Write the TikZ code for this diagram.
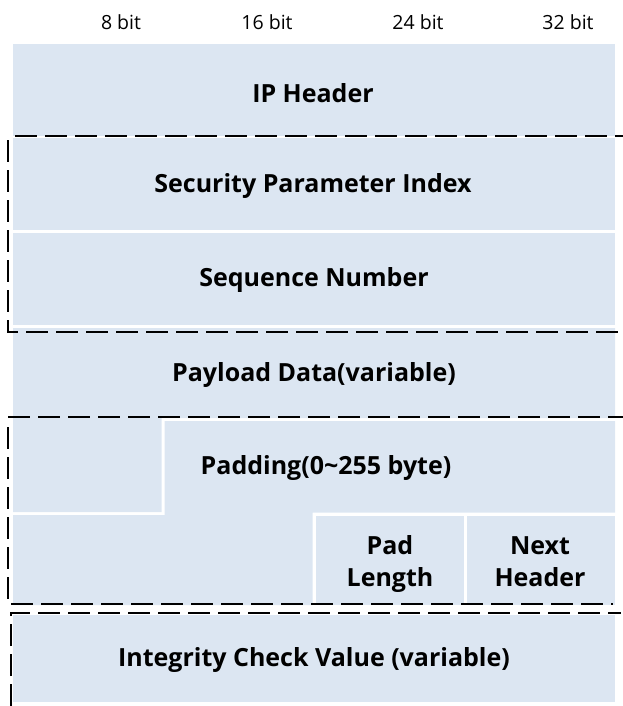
\documentclass[tikz,border=0pt]{standalone}
\usepackage{fontspec}
\setmainfont{Open Sans}
\definecolor{cellblue}{HTML}{DCE6F2}
\begin{document}
\begin{tikzpicture}[x=1pt,y=-1pt,
  cell/.style={fill=cellblue,draw=none},
  lbl/.style={font=\bfseries\fontsize{25}{32}\selectfont,align=center,inner sep=0pt},
  bitlbl/.style={font=\fontsize{19.5}{22}\selectfont,inner sep=0pt},
  frame/.style={draw=black,line width=2.9pt,dash pattern=on 22pt off 8pt}]
\useasboundingbox (0,0) rectangle (623,706);
% cells
\fill[cell] (13,44) rectangle (615,135.5);
\fill[cell] (13,138) rectangle (615,230);
\fill[cell] (13,233) rectangle (615,325);
\fill[cell] (13,328) -- (615,328) -- (615,418) -- (161.5,418) -- (161.5,512) -- (13,512) -- cycle;
\fill[cell] (164.5,421) -- (615,421) -- (615,512.5) -- (312.5,512.5) -- (312.5,605) -- (13,605) -- (13,515) -- (164.5,515) -- cycle;
\fill[cell] (315.5,515.5) rectangle (463.5,605);
\fill[cell] (466.5,515.5) rectangle (615,605);
\fill[cell] (13,615) rectangle (615,702);
% bit labels
\node[bitlbl] (b8) at (121,22) {8 bit};
\node[bitlbl] (b16) at (267,22) {16 bit};
\node[bitlbl] (b24) at (418,22) {24 bit};
\node[bitlbl] (b32) at (568,22) {32 bit};
% field labels
\node[lbl] (ip) at (313,93) {IP Header};
\node[lbl] (spi) at (313,186) {Security Parameter Index};
\node[lbl] (seq) at (314,280) {Sequence Number};
\node[lbl] (pay) at (314,375) {Payload Data(variable)};
\node[lbl] (pad) at (326,468) {Padding(0\textasciitilde 255 byte)};
\node[lbl,anchor=north] (padlen) at (390,535) {Pad\\Length};
\node[lbl,anchor=north] (nh) at (540,536) {Next\\Header};
\node[lbl] (icv) at (314,660) {Integrity Check Value (variable)};
% dashed frames
\draw[frame] (15,136) -- (623,136);
\draw[frame] (8,140) -- (8,332) -- (623,332);
\draw[frame] (8,417) -- (623,417);
\draw[frame] (8,427) -- (8,604) -- (613,604);
\draw[frame] (11,706) -- (11,613) -- (621,613);
\end{tikzpicture}
\end{document}
